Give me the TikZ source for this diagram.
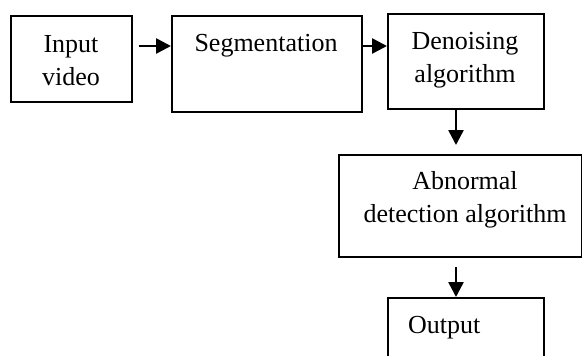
\documentclass[tikz,border=0pt]{standalone}
\usepackage{fontspec}
\setmainfont{Liberation Serif}
\usetikzlibrary{arrows.meta,calc}
\begin{document}
\begin{tikzpicture}[x=1pt,y=-1pt,
  box/.style={draw,line width=1.6pt,inner sep=0pt,anchor=north west},
  lbl/.style={font=\fontsize{26}{33}\selectfont,align=center,anchor=base,inner sep=0pt},
  arr/.style={line width=2.6pt,-{Triangle[length=15pt,width=15pt]}}]
\useasboundingbox (0,0) rectangle (582,356);
\clip (0,0) rectangle (582,356);
\node[box,minimum width=121pt,minimum height=86pt] (b1) at (10,15) {};
\node[box,minimum width=190pt,minimum height=96pt] (b2) at (171,15) {};
\node[box,minimum width=156pt,minimum height=95pt] (b3) at (387,13) {};
\node[box,minimum width=242.5pt,minimum height=102pt] (b4) at (338,154) {};
\node[box,minimum width=156pt,minimum height=80pt] (b5) at (387,297) {};
\node[lbl] (t1) at (71,85) {Input\\video};
\node[lbl] (t2) at (266,52) {Segmentation};
\node[lbl] (t3) at (465,82) {Denoising\\algorithm};
\node[lbl] (t4) at (465,222) {Abnormal\\detection algorithm};
\node[lbl,anchor=base west] (t5) at (408,333) {Output};
\draw[arr] ($(b1.north east)+(6,31)$) -- ($(b2.north west)+(0,31)$);
\draw[arr] ($(b2.north east)+(0,31)$) -- ($(b3.north west)+(0,33)$);
\draw[arr] ($(b3.south west)+(69,0)$) -- ($(b4.north west)+(118,-9)$);
\draw[arr] ($(b4.south west)+(118,9)$) -- ($(b5.north west)+(69,0)$);
\end{tikzpicture}
\end{document}
